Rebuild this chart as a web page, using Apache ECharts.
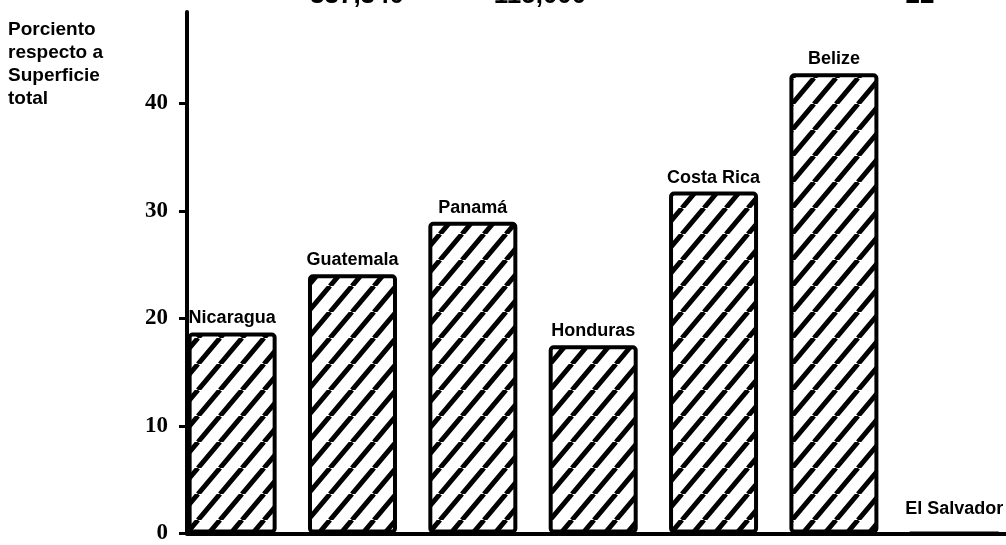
<!DOCTYPE html>
<html>
<head>
<meta charset="utf-8">
<script src="https://cdn.jsdelivr.net/npm/echarts@6/dist/echarts.min.js"></script>
<style>
	html, body { margin: 0; padding: 0; background: #fff; }
	#chart { width: 1006px; height: 545px; }
</style>
</head>
<body>
<div id="chart"></div>
<script>
// datos: porciento respecto a superficie total
var paises = ['Nicaragua', 'Guatemala', 'Panamá', 'Honduras', 'Costa Rica', 'Belize', 'El Salvador'];
var porciento = [18.7, 24.1, 29.0, 17.5, 31.8, 42.8, 0];
var ticksY = [0, 10, 20, 30, 40];
// cifras cortadas arriba de la figura
var cifrasArriba = ['337,340', '115,000', '22'];

// trama diagonal de las barras
function hatch() {
	var c = document.createElement('canvas');
	var w = 22, h = 26;
	c.width = w;
	c.height = h;
	var ctx = c.getContext('2d');
	ctx.fillStyle = '#fff';
	ctx.fillRect(0, 0, w, h);
	ctx.strokeStyle = '#000';
	ctx.lineWidth = 5;
	ctx.beginPath();
	for (var k = -1; k <= 1; k++) {
		ctx.moveTo(k * w, h);
		ctx.lineTo(k * w + w, 0);
	}
	ctx.stroke();
	return c;
}

var myChart = echarts.init(document.getElementById('chart'));

var data = [];
for (var i = 0; i < paises.length; i++) {
	data.push({
		value: [i, porciento[i]],
		label: { distance: porciento[i] > 0 ? 5 : 13 }
	});
}

var topTexts = [];
var topX = [357, 540, 920];
for (var j = 0; j < cifrasArriba.length; j++) {
	topTexts.push({
		type: 'text',
		x: topX[j],
		y: 9,
		style: {
			text: cifrasArriba[j],
			fill: '#000',
			font: 'bold 26px "Liberation Sans"',
			align: 'center',
			verticalAlign: 'bottom'
		}
	});
}

var option = {
	animation: false,
	backgroundColor: '#fff',
	grid: {
		left: 187,
		right: 0,
		top: 12,
		bottom: 2
	},
	graphic: [{
		type: 'text',
		left: 8,
		top: 18,
		style: {
			text: 'Porciento\nrespecto a\nSuperficie\ntotal',
			fill: '#000',
			font: 'bold 19px "Liberation Sans"',
			lineHeight: 23
		}
	}].concat(topTexts),
	xAxis: {
		type: 'value',
		min: -0.375,
		max: 6.43,
		axisLine: { show: true, onZero: false, lineStyle: { color: '#000', width: 4 } },
		axisTick: { show: false },
		axisLabel: { show: false },
		splitLine: { show: false }
	},
	yAxis: {
		type: 'value',
		min: 0,
		max: 48.5,
		interval: 10,
		axisLine: { show: true, onZero: false, lineStyle: { color: '#000', width: 4 } },
		axisTick: {
			show: true,
			length: 8,
			customValues: ticksY,
			lineStyle: { color: '#000', width: 3 }
		},
		axisLabel: {
			margin: 19,
			customValues: ticksY,
			color: '#000',
			fontFamily: 'Liberation Serif',
			fontWeight: 'bold',
			fontSize: 23
		},
		splitLine: { show: false }
	},
	series: [{
		type: 'bar',
		barWidth: 89,
		data: data,
		itemStyle: {
			color: { image: hatch(), repeat: 'repeat' },
			borderColor: '#000',
			borderWidth: 4,
			borderRadius: 3
		},
		label: {
			show: true,
			position: 'top',
			color: '#000',
			fontFamily: 'Liberation Sans',
			fontWeight: 'bold',
			fontSize: 18,
			formatter: function(params) {
				return paises[params.dataIndex];
			}
		}
	}]
};
myChart.setOption(option);
</script>
</body>
</html>
